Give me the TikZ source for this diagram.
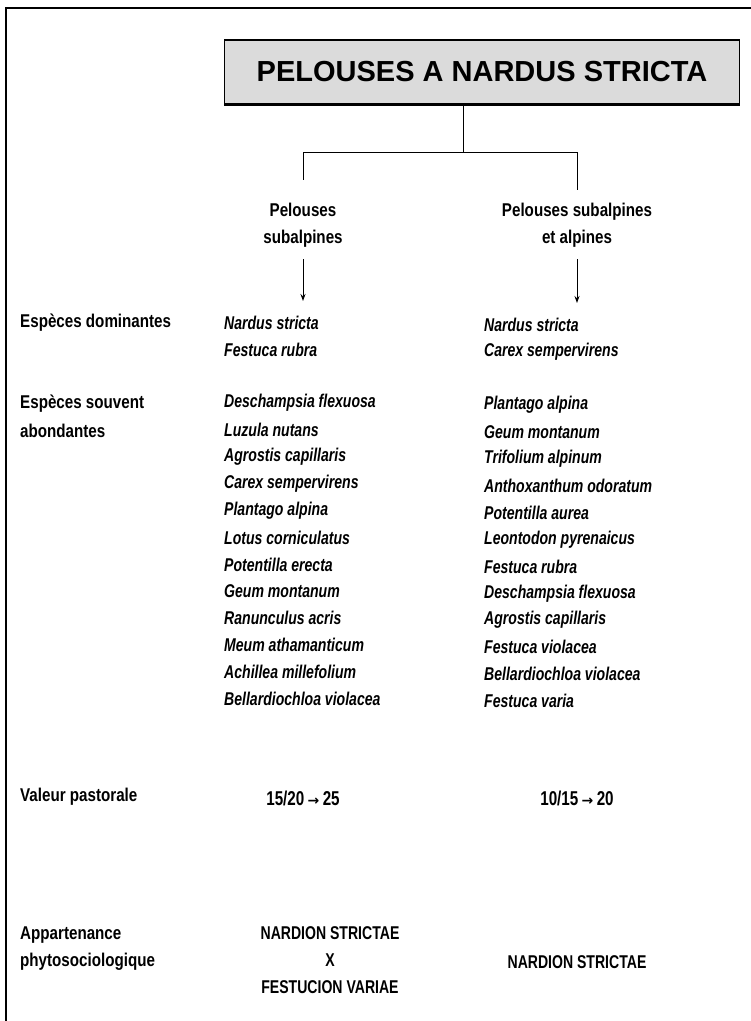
\documentclass[tikz,border=0pt]{standalone}
\usepackage{fontspec}
\setmainfont{Liberation Sans}
\newfontfamily\condfont[FakeStretch=0.76]{Liberation Sans}
\newfontfamily\labelfont[FakeStretch=0.82]{Liberation Sans}
\newfontfamily\arrowfont{DejaVu Sans}
\usetikzlibrary{arrows.meta}
\begin{document}
\begin{tikzpicture}[x=1pt,y=-1pt,
  lbl/.style={inner sep=0pt,anchor=west,font=\labelfont\bfseries\fontsize{18.5}{18.5}\selectfont},
  spc/.style={inner sep=0pt,anchor=west,font=\condfont\bfseries\itshape\fontsize{18.5}{18.5}\selectfont},
  ctr/.style={inner sep=0pt,anchor=center,font=\condfont\bfseries\fontsize{18.5}{18.5}\selectfont},
  hdr/.style={inner sep=0pt,anchor=center,font=\labelfont\bfseries\fontsize{18.5}{18.5}\selectfont},
  val/.style={inner sep=0pt,anchor=center,font=\condfont\bfseries\fontsize{20}{20}\selectfont},
  link/.style={line width=1pt},
  arr/.style={line width=1pt,-{Stealth[length=7pt,width=5pt]}},
  titlebox/.style={draw,line width=1.3pt,fill=black!14,minimum width=515pt,minimum height=64pt,
    font=\bfseries\fontsize{29}{29}\selectfont,inner sep=0pt}]
\useasboundingbox (0,0) rectangle (751,1021);
% open frame
\draw[line width=1.8pt] (6,1021) -- (6,8) -- (751,8);

% title
\node[titlebox] (title) at (482,72) {PELOUSES A NARDUS STRICTA};
\draw[line width=2.2pt] (title.south west) -- (title.south east);

% tree
\coordinate (fork) at (463,152);
\coordinate (lb) at (303,152);
\coordinate (rb) at (577,152);
\coordinate (le) at (303,180);
\coordinate (re) at (577,190);
\draw[link] (title.south -| fork) -- (fork);
\draw[link] (lb) -- (rb);
\draw[link] (lb) -- (le);
\draw[link] (rb) -- (re);

\node[hdr,align=center] (g1) at (303,225) {Pelouses\\[8pt]subalpines};
\node[hdr,align=center] (g2) at (577,225) {Pelouses subalpines\\[8pt]et alpines};
\coordinate (a1) at (303,301);
\coordinate (a2) at (577,303);
\draw[arr] (g1.south) ++(0,12) -- (a1);
\draw[arr] (g2.south) ++(0,12) -- (a2);

% row labels
\node[lbl] (r1) at (20,323) {Espèces dominantes};
\node[lbl] (r2a) at (20,404) {Espèces souvent};
\node[lbl] (r2b) at (20,431) {abondantes};
\node[lbl] (r3) at (20,797) {Valeur pastorale};
\node[lbl] (r4a) at (20,935) {Appartenance};
\node[lbl] (r4b) at (20,962) {phytosociologique};

% dominant species
\node[spc] (d11) at (224,323) {Nardus stricta};
\node[spc] (d12) at (224,350) {Festuca rubra};
\node[spc] (d21) at (484,325) {Nardus stricta};
\node[spc] (d22) at (484,352) {Carex sempervirens};

% frequent species
\foreach \t [count=\i from 0] in {Deschampsia flexuosa,Luzula nutans,Agrostis capillaris,
  Carex sempervirens,Plantago alpina,Lotus corniculatus,Potentilla erecta,Geum montanum,
  Ranunculus acris,Meum athamanticum,Achillea millefolium,Bellardiochloa violacea}
  \node[spc] (s1-\i) at (224,403+26.9*\i) {\t};
\foreach \t [count=\i from 0] in {Plantago alpina,Geum montanum,Trifolium alpinum,
  Anthoxanthum odoratum,Potentilla aurea,Leontodon pyrenaicus,Festuca rubra,
  Deschampsia flexuosa,Agrostis capillaris,Festuca violacea,Bellardiochloa violacea,Festuca varia}
  \node[spc] (s2-\i) at (484,405+26.9*\i) {\t};

% pastoral value
\node[val] (v1) at (303,798) {15/20\,{\arrowfont\bfseries\fontsize{14}{14}\selectfont→}\,25};
\node[val] (v2) at (577,798) {10/15\,{\arrowfont\bfseries\fontsize{14}{14}\selectfont→}\,20};

% phytosociology
\node[ctr] (p1) at (330,933) {NARDION STRICTAE};
\node[ctr] (p2) at (330,960) {X};
\node[ctr] (p3) at (330,987) {FESTUCION VARIAE};
\node[ctr] (p4) at (577,962) {NARDION STRICTAE};
\end{tikzpicture}
\end{document}
